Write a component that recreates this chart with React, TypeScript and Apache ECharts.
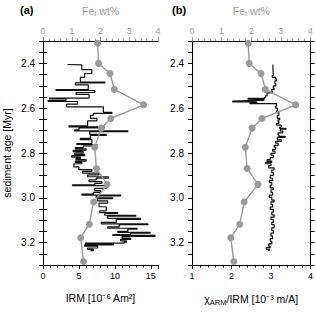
import React, { useEffect, useRef } from "react";
import * as echarts from "echarts";

// Fe_t wt% (gray points), same in both panels
const feAge = [2.31, 2.40, 2.445, 2.516, 2.585, 2.646, 2.689, 2.774, 2.869, 2.94, 3.019, 3.118, 3.178, 3.284];
const feVal = [1.9, 1.93, 2.33, 2.48, 3.5, 2.36, 2.03, 1.8, 1.86, 2.23, 1.76, 1.61, 1.31, 1.41];

// IRM [1e-6 Am^2] step profile (value held from its age down to the next age)
const irmAge = [2.405, 2.407, 2.428, 2.445, 2.462, 2.483, 2.487, 2.496, 2.517, 2.521, 2.53, 2.538, 2.555, 2.559, 2.566, 2.57, 2.582, 2.594, 2.619, 2.623, 2.632, 2.645, 2.657, 2.679, 2.683, 2.688, 2.697, 2.701, 2.705, 2.717, 2.721, 2.735, 2.74, 2.758, 2.762, 2.768, 2.776, 2.782, 2.788, 2.794, 2.8, 2.806, 2.812, 2.818, 2.824, 2.83, 2.836, 2.842, 2.848, 2.862, 2.874, 2.882, 2.89, 2.898, 2.906, 2.912, 2.92, 2.928, 2.936, 2.942, 2.946, 2.958, 2.968, 2.976, 2.984, 2.988, 2.992, 3.0, 3.004, 3.014, 3.024, 3.04, 3.058, 3.066, 3.07, 3.078, 3.082, 3.092, 3.096, 3.11, 3.116, 3.12, 3.13, 3.136, 3.14, 3.15, 3.154, 3.158, 3.164, 3.168, 3.172, 3.18, 3.186, 3.192, 3.198, 3.202, 3.206, 3.21, 3.216, 3.224, 3.23, 3.236];
const irmVal = [3.4, 5.4, 6.8, 5.8, 5.2, 8.6, 4.5, 6.3, 1.8, 7.2, 4.6, 6.4, 0.9, 3.2, 0.7, 4.8, 3.3, 8.4, 9.6, 7.0, 6.6, 7.5, 6.2, 3.6, 8.5, 5.0, 4.4, 11.8, 6.5, 8.8, 6.6, 5.2, 6.8, 4.7, 7.5, 5.6, 4.5, 6.0, 4.2, 5.6, 4.4, 5.8, 4.0, 5.2, 4.6, 6.0, 4.5, 5.4, 4.3, 5.0, 6.8, 5.5, 7.8, 6.2, 9.1, 7.4, 6.4, 8.2, 7.2, 4.1, 8.8, 7.2, 8.0, 7.0, 5.4, 10.8, 7.4, 9.7, 7.6, 9.0, 7.8, 8.8, 7.9, 10.4, 8.6, 12.9, 9.0, 13.6, 10.2, 8.1, 14.6, 10.6, 9.0, 13.1, 11.8, 10.4, 14.9, 12.2, 9.7, 15.6, 11.0, 12.2, 10.8, 11.6, 11.3, 5.9, 9.8, 5.8, 7.6, 6.2, 7.0, 6.6];

// chi_ARM / IRM [1e-3 m/A] step profile
const chiAge = [2.405, 2.43, 2.455, 2.462, 2.47, 2.478, 2.49, 2.5, 2.51, 2.516, 2.525, 2.532, 2.545, 2.552, 2.556, 2.56, 2.565, 2.568, 2.572, 2.576, 2.58, 2.59, 2.6, 2.612, 2.62, 2.632, 2.645, 2.652, 2.66, 2.668, 2.676, 2.684, 2.69, 2.694, 2.702, 2.71, 2.718, 2.726, 2.73, 2.74, 2.748, 2.756, 2.766, 2.774, 2.784, 2.792, 2.802, 2.81, 2.82, 2.83, 2.836, 2.842, 2.848, 2.856, 2.866, 2.876, 2.888, 2.9, 2.912, 2.922, 2.932, 2.944, 2.956, 2.964, 2.976, 2.988, 2.998, 3.01, 3.018, 3.03, 3.042, 3.052, 3.064, 3.076, 3.086, 3.098, 3.11, 3.12, 3.134, 3.146, 3.158, 3.17, 3.182, 3.194, 3.206, 3.216, 3.222, 3.23, 3.234];
const chiVal = [3.05, 3.06, 3.03, 3.12, 3.14, 3.1, 3.12, 3.06, 3.08, 3.02, 3.04, 2.9, 2.86, 2.84, 2.42, 2.82, 2.63, 2.03, 2.64, 2.47, 3.14, 3.12, 3.16, 3.14, 3.2, 3.16, 3.22, 3.18, 3.2, 3.14, 3.26, 3.22, 3.38, 3.24, 3.3, 3.18, 3.2, 3.36, 3.16, 3.26, 3.12, 3.18, 3.08, 3.12, 3.04, 3.1, 3.0, 3.06, 2.98, 2.9, 3.02, 2.86, 3.0, 2.94, 3.08, 3.02, 3.06, 2.98, 3.04, 2.96, 3.02, 2.98, 3.06, 3.0, 3.04, 2.96, 3.02, 3.08, 3.0, 3.04, 2.98, 3.06, 3.02, 3.08, 3.0, 3.06, 3.02, 3.08, 3.02, 3.06, 3.0, 3.04, 2.98, 3.02, 2.94, 2.98, 2.88, 2.96, 2.92];

const feTicks = { min: 0, max: 4, interval: 1 };
const irmTicks = { min: 0, max: 16, interval: 5 };
const chiTicks = { min: 1, max: 4, interval: 1 };
const ageTicks = { min: 2.3, max: 3.3, interval: 0.05 };

const FONT = "Liberation Sans";
const GRAY = "#9a9a9a";

// vertical-profile staircase: value held constant down to the next sample depth
function stepPoints(ages: number[], vals: number[]) {
  const pts: number[][] = [];
  for (let i = 0; i < ages.length; i++) {
    pts.push([vals[i], ages[i]]);
    if (i < ages.length - 1) pts.push([vals[i], ages[i + 1]]);
  }
  return pts;
}

export default function App() {
  const ref = useRef<HTMLDivElement>(null);
  useEffect(() => {
    if (!ref.current) return;
    const chart = echarts.init(ref.current, null, { renderer: "svg" });
    const grids = [
      { left: 40, top: 32, width: 118, height: 233 },
      { left: 192, top: 32, width: 119, height: 233 },
    ];
    const line = { show: true, lineStyle: { color: "#000", width: 1 } };
    const bottomAxis = (gi: number, t: any, name: string, rich: any) => ({
      type: "value",
      gridIndex: gi,
      position: "bottom",
      min: t.min,
      max: t.max,
      interval: t.interval,
      axisLine: line,
      axisTick: { show: true, length: 4, lineStyle: { color: "#000" } },
      minorTick: { show: true, splitNumber: 5, length: 2.5, lineStyle: { color: "#000" } },
      splitLine: { show: false },
      axisLabel: { color: "#000", fontSize: 9, fontFamily: FONT, margin: 6 },
      name,
      nameLocation: "middle",
      nameGap: 27,
      nameTextStyle: { color: "#000", fontSize: 10.5, fontFamily: FONT, rich },
    });
    const topAxis = (gi: number) => ({
      type: "value",
      gridIndex: gi,
      position: "top",
      min: feTicks.min,
      max: feTicks.max,
      interval: feTicks.interval,
      axisLine: line,
      axisTick: { show: true, length: 4, lineStyle: { color: GRAY } },
      minorTick: { show: true, splitNumber: 5, length: 2.5, lineStyle: { color: GRAY } },
      splitLine: { show: false },
      axisLabel: { color: GRAY, fontSize: 9, fontFamily: FONT, margin: 6 },
      name: "Fe{s|t} wt%",
      nameLocation: "middle",
      nameGap: 24,
      nameTextStyle: {
        color: GRAY,
        fontSize: 10.5,
        fontFamily: FONT,
        rich: { s: { fontSize: 7, color: GRAY, fontFamily: FONT, verticalAlign: "bottom", padding: [6, 0, 0, 0] } },
      },
    });
    const yAx = (gi: number, pos: string, labels: boolean, name?: string) => ({
      type: "value",
      gridIndex: gi,
      position: pos,
      inverse: true,
      min: ageTicks.min,
      max: ageTicks.max,
      interval: ageTicks.interval,
      axisLine: line,
      axisTick: { show: true, length: 4, lineStyle: { color: "#000" } },
      splitLine: { show: false },
      axisLabel: {
        show: labels,
        color: "#000",
        fontSize: 10,
        fontFamily: FONT,
        margin: 8,
        formatter: (v: number) => {
          const k = Math.round(v * 100);
          return k % 20 === 0 ? v.toFixed(1) : "";
        },
      },
      name: name || "",
      nameLocation: "middle",
      nameGap: 31,
      nameTextStyle: { color: "#000", fontSize: 10.5, fontFamily: FONT },
    });
    const pair = (a: number[], v: number[]) => a.map((d, i) => [v[i], d]);
    const option: any = {
      animation: false,
      grid: grids,
      xAxis: [
        bottomAxis(0, irmTicks, "IRM [10⁻⁶ Am²]", {}),
        topAxis(0),
        bottomAxis(1, chiTicks, "χ{s|ARM}/IRM [10⁻³ m/A]", {
          s: { fontSize: 7.5, fontFamily: FONT, color: "#000", verticalAlign: "bottom", padding: [6, 0, 0, 0] },
        }),
        topAxis(1),
      ],
      yAxis: [
        yAx(0, "left", true, "sediment age [Myr]"),
        yAx(0, "right", false),
        yAx(1, "left", true),
        yAx(1, "right", false),
      ],
      graphic: [
        { type: "text", left: 20, top: 4, style: { text: "(a)", fontSize: 11, fontWeight: "bold", fontFamily: FONT, fill: "#000" } },
        { type: "text", left: 172, top: 4, style: { text: "(b)", fontSize: 11, fontWeight: "bold", fontFamily: FONT, fill: "#000" } },
      ],
      series: [
        {
          type: "line", xAxisIndex: 0, yAxisIndex: 0, data: stepPoints(irmAge, irmVal),
          showSymbol: false, symbol: "none", lineStyle: { color: "#111", width: 1.2 }, z: 2,
        },
        {
          type: "line", xAxisIndex: 1, yAxisIndex: 0, data: pair(feAge, feVal),
          symbol: "circle", symbolSize: 7, itemStyle: { color: GRAY }, lineStyle: { color: GRAY, width: 1.4 }, z: 3,
        },
        {
          type: "line", xAxisIndex: 2, yAxisIndex: 2, data: stepPoints(chiAge, chiVal),
          showSymbol: false, symbol: "none", lineStyle: { color: "#111", width: 1.2 }, z: 2,
        },
        {
          type: "line", xAxisIndex: 3, yAxisIndex: 2, data: pair(feAge, feVal),
          symbol: "circle", symbolSize: 7, itemStyle: { color: GRAY }, lineStyle: { color: GRAY, width: 1.4 }, z: 3,
        },
      ],
    };
    chart.setOption(option);
    return () => chart.dispose();
  }, []);
  return (
    <div
      ref={ref}
      style={{ position: "fixed", left: 0, top: 0, width: 316, height: 313, background: "#fff" }}
    />
  );
}
